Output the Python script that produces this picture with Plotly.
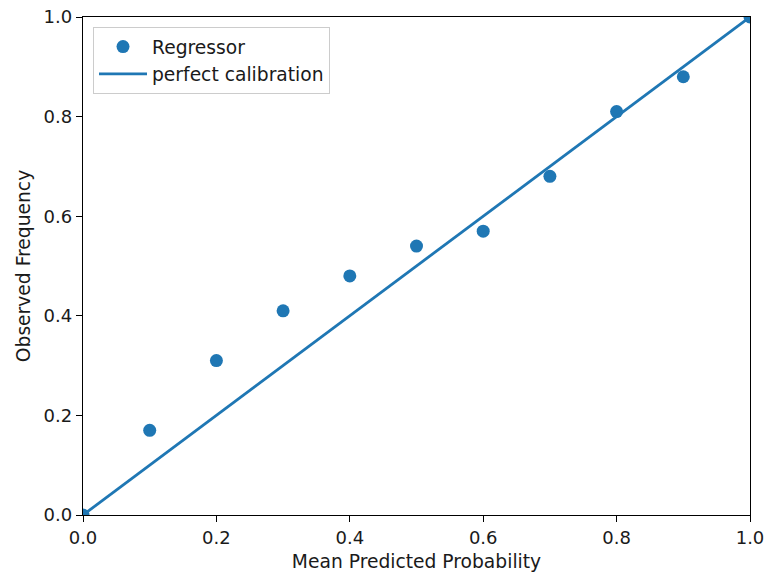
import plotly.graph_objects as go

pred = [0.0, 0.1, 0.2, 0.3, 0.4, 0.5, 0.6, 0.7, 0.8, 0.9, 1.0]
observed = [0.0, 0.17, 0.31, 0.41, 0.48, 0.54, 0.57, 0.68, 0.81, 0.88, 1.0]
diag = [0.0, 1.0]
tick_vals = [0.0, 0.2, 0.4, 0.6, 0.8, 1.0]
tick_text = ["0.0", "0.2", "0.4", "0.6", "0.8", "1.0"]

blue = "#1f77b4"
txt = "#1a1a1a"
fig = go.Figure()
fig.add_trace(go.Scatter(x=pred, y=observed, mode="markers", name="Regressor",
                         marker=dict(color=blue, size=13)))
fig.add_trace(go.Scatter(x=diag, y=diag, mode="lines", name="perfect calibration",
                         line=dict(color=blue, width=2.8)))

axis_common = dict(range=[0, 1], tickvals=tick_vals, ticktext=tick_text,
                   showgrid=False, zeroline=False, showline=True, linecolor="black",
                   linewidth=1.4, mirror=True, ticks="outside", ticklen=6,
                   tickwidth=1.4, tickcolor="black", automargin=False,
                   ticklabeloverflow="allow",
                   tickfont=dict(size=18, color=txt))
fig.update_layout(
    width=766, height=574,
    margin=dict(l=83, r=16, t=17, b=59),
    plot_bgcolor="white", paper_bgcolor="white",
    font=dict(family="DejaVu Sans", size=18.7, color=txt),
    xaxis=dict(title=dict(text="Mean Predicted Probability", standoff=8,
                          font=dict(size=18.7, color=txt)), **axis_common),
    yaxis=dict(title=dict(text="Observed Frequency", standoff=8,
                          font=dict(size=18.7, color=txt)), **axis_common),
    legend=dict(x=0.015, y=0.98, xanchor="left", yanchor="top",
                bordercolor="#cccccc", borderwidth=1, bgcolor="white",
                itemwidth=48, font=dict(size=18.7, color=txt)),
)
fig.write_html("out.html", config={"displayModeBar": False},
               post_script="document.body.style.margin='0';document.body.style.overflow='hidden';")
